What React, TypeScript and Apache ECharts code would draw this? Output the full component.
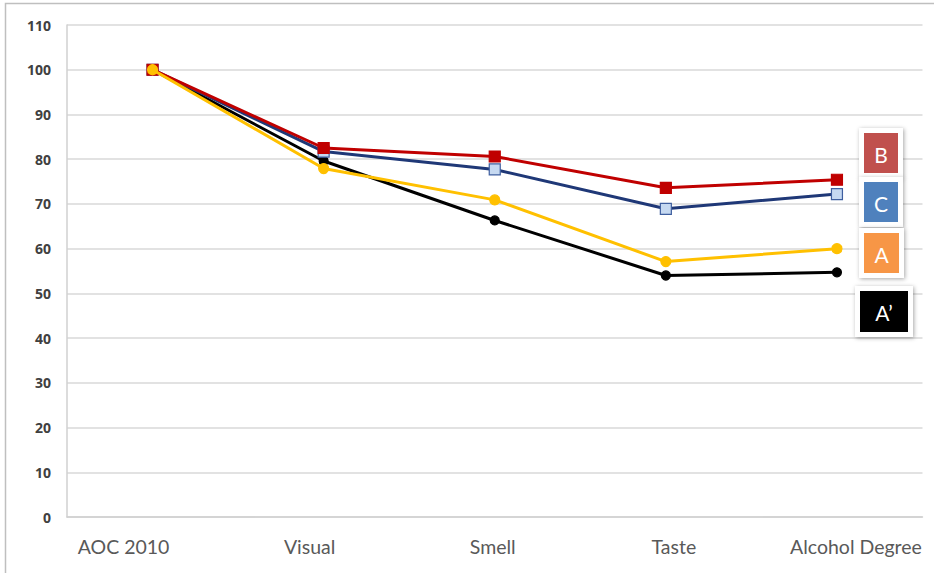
import React, { useEffect, useRef } from "react";
import * as echarts from "echarts";

const categories = ["AOC 2010", "Visual", "Smell", "Taste", "Alcohol Degree"];
const seriesB = [100, 82.5, 80.6, 73.6, 75.4];
const seriesC = [100, 81.7, 77.7, 68.9, 72.2];
const seriesA = [100, 77.9, 70.9, 57.1, 60.0];
const seriesA2 = [100, 79.6, 66.3, 54.0, 54.7];
const yTicks = { min: 0, max: 110, interval: 10 };
const legendItems = [
  { label: "B", color: "#C0504D" },
  { label: "C", color: "#4F81BD" },
  { label: "A", color: "#F79646" },
  { label: "A\u2019", color: "#000000" },
];
// horizontal offset of each category label relative to its point (px)
const labelShift = [-29, -14, -2, 8, 19];

export default function App() {
  const ref = useRef<HTMLDivElement>(null);
  useEffect(() => {
    if (!ref.current) return;
    const chart = echarts.init(ref.current, null, { renderer: "svg" });
    const boxes: any[] = [
      { x: 864, y: 133, w: 34, h: 40 },
      { x: 864, y: 182, w: 34, h: 40 },
      { x: 864, y: 233, w: 35, h: 40 },
      { x: 860, y: 291, w: 48, h: 41 },
    ];
    const legendGraphics: any[] = [];
    legendItems.forEach((it, i) => {
      const b = boxes[i];
      legendGraphics.push({
        type: "rect",
        shape: { x: b.x - 5, y: b.y - 5, width: b.w + 10, height: b.h + 10 },
        style: { fill: "#ffffff", shadowBlur: 4, shadowColor: "rgba(0,0,0,0.35)", shadowOffsetX: 1, shadowOffsetY: 1 },
        z: 10,
      });
      legendGraphics.push({
        type: "rect",
        shape: { x: b.x, y: b.y, width: b.w, height: b.h },
        style: { fill: it.color },
        z: 11,
      });
      legendGraphics.push({
        type: "text",
        x: b.x + b.w / 2,
        y: b.y + b.h / 2 + 1,
        style: {
          text: it.label,
          fill: "#ffffff",
          font: "21px Lato, 'Open Sans', sans-serif",
          align: "center",
          verticalAlign: "middle",
        },
        z: 12,
      });
    });
    const rich: any = {};
    labelShift.forEach((s, i) => {
      rich["c" + i] = {
        color: "#595959",
        fontSize: 19.5,
        fontFamily: "Lato, 'Open Sans', sans-serif",
        padding: s < 0 ? [0, -2 * s, 0, 0] : [0, 0, 0, 2 * s],
      };
    });
    const mk = (name: string, data: number[], color: string, symbol: string, size: number, fill: string, border: string, z: number) => ({
      name,
      type: "line",
      data,
      symbol,
      symbolSize: size,
      z,
      lineStyle: { color, width: 3 },
      itemStyle: { color: fill, borderColor: border, borderWidth: 1.2 },
    });
    chart.setOption({
      animation: false,
      backgroundColor: "#ffffff",
      grid: { left: 67, right: 11.5, top: 25, bottom: 56, containLabel: false },
      xAxis: {
        type: "category",
        data: categories,
        boundaryGap: true,
        axisLine: { show: true, lineStyle: { color: "#D0D0D0", width: 1.5 } },
        axisTick: { show: false },
        axisLabel: {
          color: "#595959",
          fontSize: 19.5,
          fontFamily: "Lato, 'Open Sans', sans-serif",
          margin: 19,
          interval: 0,
          formatter: (v: string, i: number) => "{c" + i + "|" + v + "}",
          rich,
        },
      },
      yAxis: {
        type: "value",
        min: yTicks.min,
        max: yTicks.max,
        interval: yTicks.interval,
        axisLine: { show: true, lineStyle: { color: "#D0D0D0", width: 1.5 } },
        axisTick: { show: false },
        splitLine: { show: true, lineStyle: { color: "#D9D9D9", width: 1.5 } },
        axisLabel: { color: "#404040", fontSize: 14, fontWeight: "bold", fontFamily: "'Open Sans', sans-serif", margin: 16 },
      },
      series: [
        mk("A'", seriesA2, "#000000", "circle", 9, "#000000", "#000000", 2),
        mk("C", seriesC, "#1F3877", "rect", 11, "#C6D9F1", "#3F5F9F", 3),
        mk("B", seriesB, "#C00000", "rect", 11, "#C00000", "#C00000", 4),
        mk("A", seriesA, "#FFC000", "circle", 10, "#FFC000", "#FFC000", 5),
      ],
      graphic: [
        {
          type: "rect",
          shape: { x: 5.5, y: 3.5, width: 960, height: 620 },
          style: { fill: "none", stroke: "#BFBFBF", lineWidth: 1.5 },
          z: 1,
        },
        ...legendGraphics,
      ],
    });
    return () => chart.dispose();
  }, []);
  return <div ref={ref} style={{ position: "fixed", left: 0, top: 0, width: 934, height: 573 }} />;
}
